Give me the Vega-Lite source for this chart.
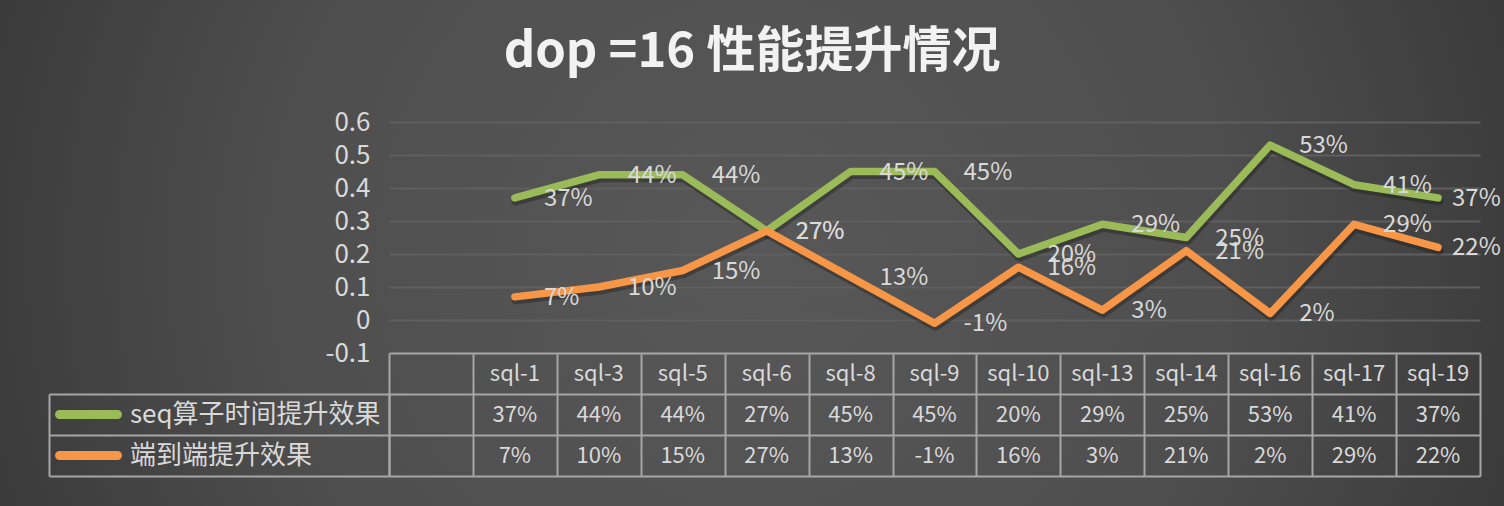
{
  "$schema": "https://vega.github.io/schema/vega-lite/v6.json",
  "width": 1504,
  "height": 506,
  "autosize": "none",
  "padding": 0,
  "background": "#3a3a3a",
  "config": {
    "font": "Noto Sans CJK SC",
    "view": {"stroke": null},
    "locale": {"number": {"decimal": ".", "thousands": ",", "grouping": [3], "currency": ["$", ""], "minus": "-"}}
  },
  "view": {
    "stroke": null,
    "fill": {
      "gradient": "radial",
      "x1": 0.5, "y1": 0.5, "r1": 0,
      "x2": 0.5, "y2": 0.5, "r2": 0.71,
      "stops": [
        {"offset": 0, "color": "#585858"},
        {"offset": 0.45, "color": "#4e4e4e"},
        {"offset": 0.75, "color": "#3a3a3a"},
        {"offset": 1, "color": "#2a2a2a"}
      ]
    }
  },
  "title": {
    "text": "dop =16 性能提升情况",
    "font": "Noto Sans CJK SC",
    "fontSize": 49,
    "fontWeight": "bold",
    "color": "#f2f2f2",
    "anchor": "middle",
    "frame": "group",
    "offset": -77
  },
  "data": {
    "values": [
      {"sql": "sql-1", "series": "seq算子时间提升效果", "value": 0.37},
      {"sql": "sql-3", "series": "seq算子时间提升效果", "value": 0.44},
      {"sql": "sql-5", "series": "seq算子时间提升效果", "value": 0.44},
      {"sql": "sql-6", "series": "seq算子时间提升效果", "value": 0.27},
      {"sql": "sql-8", "series": "seq算子时间提升效果", "value": 0.45},
      {"sql": "sql-9", "series": "seq算子时间提升效果", "value": 0.45},
      {"sql": "sql-10", "series": "seq算子时间提升效果", "value": 0.20},
      {"sql": "sql-13", "series": "seq算子时间提升效果", "value": 0.29},
      {"sql": "sql-14", "series": "seq算子时间提升效果", "value": 0.25},
      {"sql": "sql-16", "series": "seq算子时间提升效果", "value": 0.53},
      {"sql": "sql-17", "series": "seq算子时间提升效果", "value": 0.41},
      {"sql": "sql-19", "series": "seq算子时间提升效果", "value": 0.37},
      {"sql": "sql-1", "series": "端到端提升效果", "value": 0.07},
      {"sql": "sql-3", "series": "端到端提升效果", "value": 0.10},
      {"sql": "sql-5", "series": "端到端提升效果", "value": 0.15},
      {"sql": "sql-6", "series": "端到端提升效果", "value": 0.27},
      {"sql": "sql-8", "series": "端到端提升效果", "value": 0.13},
      {"sql": "sql-9", "series": "端到端提升效果", "value": -0.01},
      {"sql": "sql-10", "series": "端到端提升效果", "value": 0.16},
      {"sql": "sql-13", "series": "端到端提升效果", "value": 0.03},
      {"sql": "sql-14", "series": "端到端提升效果", "value": 0.21},
      {"sql": "sql-16", "series": "端到端提升效果", "value": 0.02},
      {"sql": "sql-17", "series": "端到端提升效果", "value": 0.29},
      {"sql": "sql-19", "series": "端到端提升效果", "value": 0.22}
    ]
  },
  "resolve": {
    "scale": {"x": "independent", "y": "independent", "color": "shared"},
    "axis": {"x": "independent", "y": "independent"}
  },
  "layer": [
    {
      "mark": {"type": "line", "strokeWidth": 9, "strokeCap": "round", "strokeJoin": "round", "color": "#151515", "opacity": 0.35},
      "encoding": {
        "x": {
          "field": "sql", "type": "nominal",
          "sort": ["sql-1", "sql-3", "sql-5", "sql-6", "sql-8", "sql-9", "sql-10", "sql-13", "sql-14", "sql-16", "sql-17", "sql-19"],
          "scale": {"domain": ["", "sql-1", "sql-3", "sql-5", "sql-6", "sql-8", "sql-9", "sql-10", "sql-13", "sql-14", "sql-16", "sql-17", "sql-19"], "range": [390, 1481], "paddingInner": 0, "paddingOuter": 0},
          "axis": null
        },
        "y": {
          "field": "value", "type": "quantitative",
          "scale": {"domain": [-0.1, 0.6], "range": [356, 125], "nice": false, "zero": false},
          "axis": null
        },
        "detail": {"field": "series", "type": "nominal"}
      }
    },
    {
      "layer": [
        {
          "mark": {"type": "line", "strokeWidth": 7.5, "strokeCap": "round", "strokeJoin": "round"},
          "encoding": {
            "x": {
              "field": "sql", "type": "nominal",
              "sort": ["sql-1", "sql-3", "sql-5", "sql-6", "sql-8", "sql-9", "sql-10", "sql-13", "sql-14", "sql-16", "sql-17", "sql-19"],
              "scale": {"domain": ["", "sql-1", "sql-3", "sql-5", "sql-6", "sql-8", "sql-9", "sql-10", "sql-13", "sql-14", "sql-16", "sql-17", "sql-19"], "range": [389, 1480], "paddingInner": 0, "paddingOuter": 0},
              "axis": null
            },
            "y": {
              "field": "value", "type": "quantitative",
              "scale": {"domain": [-0.1, 0.6], "range": [353, 122], "nice": false, "zero": false},
              "axis": {
                "orient": "left", "offset": -389, "title": null,
                "values": [-0.1, 0, 0.1, 0.2, 0.3, 0.4, 0.5, 0.6],
                "labelExpr": "'' + datum.value",
                "labelFontSize": 26, "labelColor": "#d9d9d9", "labelPadding": 19,
                "ticks": false, "tickSize": 0, "domain": false,
                "grid": true, "gridColor": "#5f5f5f", "gridWidth": 2
              }
            },
            "color": {
              "field": "series", "type": "nominal",
              "scale": {"domain": ["seq算子时间提升效果", "端到端提升效果"], "range": ["#9bbb59", "#f79646"]},
              "legend": null
            }
          }
        },
        {
          "transform": [{"filter": "datum.sql !== 'sql-19'"}],
          "mark": {"type": "text", "align": "left", "baseline": "middle", "dx": 29, "dy": 1, "fontSize": 24, "color": "#d9d9d9"},
          "encoding": {
            "x": {
              "field": "sql", "type": "nominal",
              "scale": {"domain": ["", "sql-1", "sql-3", "sql-5", "sql-6", "sql-8", "sql-9", "sql-10", "sql-13", "sql-14", "sql-16", "sql-17", "sql-19"], "range": [389, 1480], "paddingInner": 0, "paddingOuter": 0},
              "axis": null
            },
            "y": {
              "field": "value", "type": "quantitative",
              "scale": {"domain": [-0.1, 0.6], "range": [353, 122], "nice": false, "zero": false}
            },
            "text": {"field": "value", "type": "quantitative", "format": ".0%"}
          }
        },
        {
          "transform": [{"filter": "datum.sql === 'sql-19'"}],
          "mark": {"type": "text", "align": "left", "baseline": "middle", "dx": 14, "dy": 1, "fontSize": 24, "color": "#d9d9d9"},
          "encoding": {
            "x": {
              "field": "sql", "type": "nominal",
              "scale": {"domain": ["", "sql-1", "sql-3", "sql-5", "sql-6", "sql-8", "sql-9", "sql-10", "sql-13", "sql-14", "sql-16", "sql-17", "sql-19"], "range": [389, 1480], "paddingInner": 0, "paddingOuter": 0},
              "axis": null
            },
            "y": {
              "field": "value", "type": "quantitative",
              "scale": {"domain": [-0.1, 0.6], "range": [353, 122], "nice": false, "zero": false}
            },
            "text": {"field": "value", "type": "quantitative", "format": ".0%"}
          }
        }
      ]
    },
    {
      "layer": [
        {
          "transform": [{"filter": "datum.series === 'seq算子时间提升效果'"}],
          "mark": {"type": "text", "align": "center", "baseline": "middle", "fontSize": 22, "color": "#d9d9d9"},
          "encoding": {
            "x": {
              "field": "sql", "type": "nominal",
              "scale": {"domain": ["", "sql-1", "sql-3", "sql-5", "sql-6", "sql-8", "sql-9", "sql-10", "sql-13", "sql-14", "sql-16", "sql-17", "sql-19"], "range": [389, 1480], "paddingInner": 0, "paddingOuter": 0},
              "axis": {"orient": "top", "title": null, "labels": false, "ticks": false, "domain": false, "grid": true, "tickBand": "extent", "gridColor": "#a6a6a6", "gridWidth": 2}
            },
            "y": {
              "datum": "表头", "type": "nominal",
              "scale": {"domain": ["表头", "seq算子时间提升效果", "端到端提升效果"], "range": [353, 476], "paddingInner": 0, "paddingOuter": 0},
              "axis": {"orient": "left", "title": null, "labels": false, "ticks": false, "domain": false, "grid": true, "tickBand": "extent", "gridColor": "#a6a6a6", "gridWidth": 2}
            },
            "text": {"field": "sql", "type": "nominal"}
          }
        },
        {
          "mark": {"type": "text", "align": "center", "baseline": "middle", "fontSize": 22, "color": "#d9d9d9"},
          "encoding": {
            "x": {
              "field": "sql", "type": "nominal",
              "scale": {"domain": ["", "sql-1", "sql-3", "sql-5", "sql-6", "sql-8", "sql-9", "sql-10", "sql-13", "sql-14", "sql-16", "sql-17", "sql-19"], "range": [389, 1480], "paddingInner": 0, "paddingOuter": 0},
              "axis": {"orient": "top", "title": null, "labels": false, "ticks": false, "domain": false, "grid": true, "tickBand": "extent", "gridColor": "#a6a6a6", "gridWidth": 2}
            },
            "y": {
              "field": "series", "type": "nominal",
              "scale": {"domain": ["表头", "seq算子时间提升效果", "端到端提升效果"], "range": [353, 476], "paddingInner": 0, "paddingOuter": 0},
              "axis": {"orient": "left", "title": null, "labels": false, "ticks": false, "domain": false, "grid": true, "tickBand": "extent", "gridColor": "#a6a6a6", "gridWidth": 2}
            },
            "text": {"field": "value", "type": "quantitative", "format": ".0%"}
          }
        }
      ]
    },
    {
      "transform": [{"filter": "datum.sql === 'sql-1'"}],
      "mark": {"type": "text", "align": "left", "baseline": "middle", "fontSize": 26, "color": "#d9d9d9"},
      "encoding": {
        "x": {
          "datum": "图例", "type": "nominal", "bandPosition": 0.238,
          "scale": {"domain": ["图例"], "range": [49, 389], "paddingInner": 0, "paddingOuter": 0},
          "axis": {"orient": "top", "title": null, "labels": false, "ticks": false, "domain": false, "grid": true, "tickBand": "extent", "gridColor": "#a6a6a6", "gridWidth": 2}
        },
        "y": {
          "field": "series", "type": "nominal",
          "scale": {"domain": ["seq算子时间提升效果", "端到端提升效果"], "range": [394, 476], "paddingInner": 0, "paddingOuter": 0},
          "axis": {"orient": "left", "title": null, "labels": false, "ticks": false, "domain": false, "grid": true, "tickBand": "extent", "gridColor": "#a6a6a6", "gridWidth": 2}
        },
        "text": {"field": "series", "type": "nominal"}
      }
    },
    {
      "transform": [{"filter": "datum.sql === 'sql-1'"}],
      "mark": {"type": "tick", "orient": "horizontal", "size": 67, "thickness": 9, "cornerRadius": 4.5, "opacity": 1},
      "encoding": {
        "x": {
          "datum": "图例", "type": "nominal",
          "scale": {"domain": ["图例"], "range": [55, 122], "paddingInner": 0, "paddingOuter": 0},
          "axis": null
        },
        "y": {
          "field": "series", "type": "nominal",
          "scale": {"domain": ["seq算子时间提升效果", "端到端提升效果"], "range": [394, 476], "paddingInner": 0, "paddingOuter": 0},
          "axis": null
        },
        "color": {
          "field": "series", "type": "nominal",
          "scale": {"domain": ["seq算子时间提升效果", "端到端提升效果"], "range": ["#9bbb59", "#f79646"]},
          "legend": null
        }
      }
    }
  ]
}
